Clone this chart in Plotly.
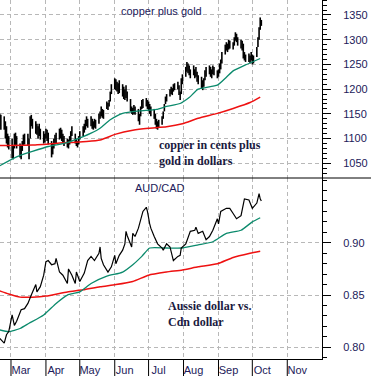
import pandas as pd
import plotly.graph_objects as go

# ---------------- data ----------------
# copper (cents) + gold (dollars): daily high / low, business days 2009-02-19 .. 2009-10-09
cg_start, cg_end = "2009-02-19", "2009-10-09"
cg_high = [
    1150, 1148,
    1145, 1135, 1125, 1110, 1105,
    1100, 1085, 1110, 1112, 1105,
    1090, 1085, 1095, 1108, 1110,
    1110, 1100, 1145, 1148, 1140,
    1135, 1130, 1125, 1130, 1120,
    1115, 1110, 1120, 1118, 1112,
    1095, 1090, 1100, 1108, 1112,
    1120, 1122, 1118, 1110, 1105,
    1100, 1098, 1105, 1115, 1125,
    1110, 1100, 1095, 1105, 1115,
    1125, 1130, 1138, 1145, 1140,
    1145, 1140, 1135, 1140, 1138,
    1150, 1155, 1165, 1160, 1158,
    1175, 1172, 1178, 1195, 1210,
    1222, 1220, 1215, 1212, 1218,
    1210, 1205, 1200, 1208, 1195,
    1180, 1165, 1162, 1168, 1165,
    1160, 1150, 1165, 1178, 1180,
    1182, 1178, 1175, 1170, 1165,
    1160, 1150, 1140, 1135, 1138,
    1145, 1155, 1170, 1185, 1190,
    1200, 1205, 1202, 1210, 1212,
    1215, 1208, 1195, 1222, 1230,
    1245, 1255, 1252, 1248, 1240,
    1248, 1240, 1245, 1235, 1228,
    1225, 1218, 1222, 1238, 1245,
    1248, 1245, 1240, 1248, 1245,
    1238, 1240, 1252, 1260, 1275,
    1290, 1295, 1292, 1300, 1298,
    1295, 1305, 1315, 1312, 1305,
    1300, 1298, 1292, 1275, 1270,
    1272, 1268, 1275, 1270, 1268,
    1285, 1305, 1325, 1345, 1340,
]
cg_low = [
    1125, 1118,
    1118, 1100, 1090, 1082, 1078,
    1060, 1058, 1080, 1085, 1080,
    1062, 1058, 1075, 1085, 1088,
    1085, 1058, 1100, 1125, 1120,
    1110, 1108, 1100, 1105, 1098,
    1090, 1092, 1100, 1095, 1088,
    1062, 1068, 1080, 1088, 1090,
    1098, 1100, 1095, 1090, 1085,
    1082, 1080, 1088, 1095, 1105,
    1090, 1085, 1082, 1088, 1098,
    1105, 1112, 1118, 1125, 1122,
    1125, 1120, 1118, 1122, 1120,
    1130, 1140, 1145, 1142, 1140,
    1160, 1158, 1165, 1175, 1190,
    1200, 1198, 1195, 1190, 1192,
    1185, 1180, 1178, 1182, 1175,
    1155, 1150, 1148, 1150, 1148,
    1135, 1128, 1145, 1160, 1162,
    1165, 1160, 1155, 1150, 1145,
    1140, 1128, 1120, 1118, 1122,
    1128, 1140, 1155, 1170, 1175,
    1185, 1190, 1188, 1195, 1198,
    1200, 1188, 1178, 1190, 1210,
    1225, 1235, 1232, 1228, 1222,
    1228, 1222, 1225, 1215, 1210,
    1202, 1198, 1205, 1218, 1225,
    1230, 1225, 1222, 1230, 1228,
    1222, 1225, 1232, 1240, 1252,
    1270, 1278, 1275, 1280, 1282,
    1280, 1288, 1298, 1295, 1288,
    1282, 1278, 1262, 1258, 1255,
    1255, 1252, 1258, 1250, 1252,
    1265, 1285, 1300, 1320, 1328,
]
cg_ma_short_dates = ["2009-02-19", "2009-03-06", "2009-03-20", "2009-04-03", "2009-04-20",
                     "2009-05-04", "2009-05-11", "2009-05-19", "2009-05-28", "2009-06-08",
                     "2009-06-23", "2009-07-08", "2009-07-17", "2009-07-29", "2009-08-06",
                     "2009-08-14", "2009-08-31", "2009-09-08", "2009-09-14", "2009-09-25",
                     "2009-10-08"]
cg_ma_short = [1045, 1063, 1074, 1084, 1092, 1104, 1111, 1121, 1138, 1151,
               1156, 1159, 1165, 1171, 1183, 1200, 1208, 1224, 1237, 1249, 1262]
cg_ma_long_dates = ["2009-02-19", "2009-03-20", "2009-04-20", "2009-05-07", "2009-05-19",
                    "2009-06-02", "2009-06-17", "2009-07-01", "2009-07-17", "2009-07-31",
                    "2009-08-14", "2009-08-31", "2009-09-14", "2009-09-29", "2009-10-08"]
cg_ma_long = [1086, 1087, 1092, 1094, 1097, 1109, 1117, 1121, 1124, 1130,
              1141, 1151, 1161, 1173, 1184]

# AUD/CAD
aud_dates = (
    ["2009-02-19", "2009-02-23", "2009-02-25", "2009-02-27"]
    + ["2009-03-02", "2009-03-04", "2009-03-06", "2009-03-10", "2009-03-13", "2009-03-16",
       "2009-03-19", "2009-03-23", "2009-03-24", "2009-03-27", "2009-03-30"]
    + ["2009-04-01", "2009-04-03", "2009-04-06", "2009-04-09", "2009-04-10", "2009-04-13",
       "2009-04-16", "2009-04-20", "2009-04-21", "2009-04-24", "2009-04-27", "2009-04-28"]
    + ["2009-05-01", "2009-05-05", "2009-05-08", "2009-05-11", "2009-05-14", "2009-05-18",
       "2009-05-19", "2009-05-20", "2009-05-22", "2009-05-26", "2009-05-29"]
    + ["2009-06-01", "2009-06-02", "2009-06-05", "2009-06-08", "2009-06-10", "2009-06-11",
       "2009-06-12", "2009-06-16", "2009-06-17", "2009-06-19", "2009-06-22", "2009-06-24",
       "2009-06-26", "2009-06-29", "2009-06-30"]
    + ["2009-07-02", "2009-07-03", "2009-07-06", "2009-07-09", "2009-07-13", "2009-07-14",
       "2009-07-17", "2009-07-20", "2009-07-23", "2009-07-27", "2009-07-29", "2009-07-30"]
    + ["2009-08-03", "2009-08-05", "2009-08-07", "2009-08-11", "2009-08-12", "2009-08-14",
       "2009-08-18", "2009-08-21", "2009-08-24", "2009-08-27", "2009-08-31"]
    + ["2009-09-01", "2009-09-03", "2009-09-08", "2009-09-11", "2009-09-14", "2009-09-17",
       "2009-09-21", "2009-09-24", "2009-09-28", "2009-09-30"]
    + ["2009-10-01", "2009-10-05", "2009-10-07", "2009-10-08", "2009-10-09"]
)
aud_vals = (
    [0.8086, 0.804, 0.812, 0.815]
    + [0.831, 0.821, 0.825, 0.836, 0.837, 0.842, 0.850, 0.860, 0.853, 0.858, 0.869]
    + [0.882, 0.883, 0.879, 0.880, 0.885, 0.872, 0.869, 0.861, 0.875, 0.869, 0.861, 0.872]
    + [0.863, 0.871, 0.883, 0.887, 0.883, 0.890, 0.896, 0.885, 0.879, 0.872, 0.877]
    + [0.888, 0.880, 0.888, 0.893, 0.899, 0.911, 0.907, 0.896, 0.909, 0.906, 0.914, 0.923,
       0.930, 0.934, 0.930]
    + [0.918, 0.914, 0.906, 0.899, 0.895, 0.893, 0.899, 0.896, 0.883, 0.887, 0.888, 0.895]
    + [0.899, 0.906, 0.911, 0.912, 0.915, 0.909, 0.911, 0.903, 0.906, 0.912, 0.923]
    + [0.918, 0.930, 0.933, 0.933, 0.928, 0.923, 0.926, 0.942, 0.941, 0.936]
    + [0.933, 0.938, 0.947, 0.942, 0.940]
)
aud_ma_short_dates = ["2009-02-19", "2009-02-27", "2009-03-09", "2009-03-17", "2009-03-30",
                      "2009-04-10", "2009-04-20", "2009-05-01", "2009-05-11", "2009-05-25",
                      "2009-06-08", "2009-06-17", "2009-06-25", "2009-07-02", "2009-07-17",
                      "2009-07-31", "2009-08-14", "2009-08-27", "2009-09-08", "2009-09-21",
                      "2009-10-01", "2009-10-08"]
aud_ma_short = [0.8166, 0.815, 0.818, 0.823, 0.831, 0.842, 0.850, 0.853, 0.861, 0.868,
                0.872, 0.879, 0.887, 0.895, 0.895, 0.895, 0.898, 0.901, 0.909, 0.912,
                0.920, 0.924]
aud_ma_long_dates = ["2009-02-19", "2009-02-27", "2009-03-09", "2009-03-20", "2009-04-01",
                     "2009-04-20", "2009-05-04", "2009-05-19", "2009-06-02", "2009-06-17",
                     "2009-07-01", "2009-07-17", "2009-07-31", "2009-08-14", "2009-08-31",
                     "2009-09-14", "2009-09-29", "2009-10-08"]
aud_ma_long = [0.854, 0.851, 0.848, 0.848, 0.849, 0.853, 0.855, 0.858, 0.860, 0.863,
               0.869, 0.872, 0.874, 0.877, 0.880, 0.886, 0.890, 0.892]

month_ticks = ["2009-03-01", "2009-04-01", "2009-05-01", "2009-06-01", "2009-07-01",
               "2009-08-01", "2009-09-01", "2009-10-01", "2009-11-01"]
month_labels = ["Mar", "Apr", "May", "Jun", "Jul", "Aug", "Sep", "Oct", "Nov"]
cg_ticks = [1050, 1100, 1150, 1200, 1250, 1300, 1350]
aud_ticks = [0.80, 0.85, 0.90]

# ---------------- figure ----------------
W, H = 371, 376
ML, MR, MT, MB = 0, 49, 0, 17
PH = H - MT - MB
split = (PH - 178) / PH

GREEN = "#0b8a6c"
RED = "#ee1111"
NAVY = "#221a5a"
GRID = "#b8b8b8"

bdays = pd.bdate_range(cg_start, cg_end)
bx, by = [], []
for d, h, l in zip(bdays, cg_high, cg_low):
    bx += [d, d, None]
    by += [l, h, None]

fig = go.Figure()
fig.add_trace(go.Scatter(x=bx, y=by, mode="lines", line=dict(color="black", width=1.6),
                         xaxis="x", yaxis="y", hoverinfo="skip"))
fig.add_trace(go.Scatter(x=cg_ma_long_dates, y=cg_ma_long, mode="lines",
                         line=dict(color=RED, width=1.5, shape="spline", smoothing=0.5),
                         xaxis="x", yaxis="y"))
fig.add_trace(go.Scatter(x=cg_ma_short_dates, y=cg_ma_short, mode="lines",
                         line=dict(color=GREEN, width=1.3, shape="spline", smoothing=0.5),
                         xaxis="x", yaxis="y"))

fig.add_trace(go.Scatter(x=aud_ma_long_dates, y=aud_ma_long, mode="lines",
                         line=dict(color=RED, width=1.5, shape="spline", smoothing=0.5),
                         xaxis="x2", yaxis="y2"))
fig.add_trace(go.Scatter(x=aud_ma_short_dates, y=aud_ma_short, mode="lines",
                         line=dict(color=GREEN, width=1.3, shape="spline", smoothing=0.5),
                         xaxis="x2", yaxis="y2"))
fig.add_trace(go.Scatter(x=aud_dates, y=aud_vals, mode="lines",
                         line=dict(color="black", width=1.2),
                         xaxis="x2", yaxis="y2"))

xrange = ["2009-02-19 06:00", "2009-12-01 19:00"]
xcommon = dict(range=xrange, type="date", tickmode="array", tickvals=month_ticks,
               showgrid=True, gridcolor=GRID, griddash="4px,3px", gridwidth=1,
               zeroline=False, fixedrange=True, automargin=False)
ycommon = dict(side="right", showgrid=True, gridcolor=GRID, griddash="4px,3px",
               showline=True, linecolor="black", linewidth=1, zeroline=False,
               ticks="outside", ticklen=8, tickcolor="black", tickwidth=1,
               ticklabelstandoff=10, automargin=False,
               tickfont=dict(family="Liberation Sans, Arial", size=11, color=NAVY))

fig.update_layout(
    width=W, height=H,
    margin=dict(l=ML, r=MR, t=MT, b=MB, pad=0, autoexpand=False),
    paper_bgcolor="white", plot_bgcolor="white",
    showlegend=False,
    xaxis=dict(**xcommon, anchor="y", showticklabels=False, ticks=""),
    xaxis2=dict(**xcommon, anchor="y2", ticktext=month_labels, ticks="",
                showline=True, linecolor="black", linewidth=1,
                ticklabelshift=10, ticklabelstandoff=1,
                tickfont=dict(family="Liberation Sans, Arial", size=11, color=NAVY)),
    yaxis=dict(**ycommon, domain=[split, 1], range=[1020.3, 1380.3],
               tickmode="array", tickvals=cg_ticks,
               minor=dict(tickmode="linear", tick0=1000, dtick=10, ticks="outside",
                          ticklen=4, tickcolor="black", showgrid=False)),
    yaxis2=dict(**ycommon, domain=[0, split], range=[0.7888, 0.962],
                tickmode="array", tickvals=aud_ticks, tickformat=".2f",
                minor=dict(tickmode="linear", tick0=0.8, dtick=0.01, ticks="outside",
                           ticklen=4, tickcolor="black", showgrid=False)),
)

# month tick marks below the bottom axis
for m in month_ticks:
    fig.add_shape(type="line", xref="x2", yref="paper", x0=m, x1=m,
                  y0=0, y1=-MB / PH, line=dict(color="black", width=1))
# separator between panels (extends across full width)
fig.add_shape(type="line", xref="paper", yref="paper", x0=0, x1=W / (W - MR),
              y0=split, y1=split, line=dict(color="black", width=1))

def py(pix):
    return (PH - pix) / PH

def px(pix):
    return pix / (W - MR)

fig.add_annotation(text="copper plus gold", xref="paper", yref="paper",
                   x=px(161.5), y=py(11.5), showarrow=False, xanchor="center", yanchor="middle",
                   font=dict(family="Liberation Sans, Arial", size=11, color=NAVY))
fig.add_annotation(text="AUD/CAD", xref="paper", yref="paper",
                   x=px(160), y=py(187.7), showarrow=False, xanchor="center", yanchor="middle",
                   font=dict(family="Liberation Sans, Arial", size=11, color=NAVY))
fig.add_annotation(text="copper in cents plus<br>gold in dollars", xref="paper", yref="paper",
                   x=px(156.7), y=py(152.7), showarrow=False, xanchor="left", yanchor="middle",
                   align="left",
                   font=dict(family="Liberation Serif, Times New Roman", size=12,
                             color="#1a1a40", weight="bold"))
fig.add_annotation(text="Aussie dollar vs.<br>Cdn dollar", xref="paper", yref="paper",
                   x=px(166), y=py(314.2), showarrow=False, xanchor="left", yanchor="middle",
                   align="left",
                   font=dict(family="Liberation Serif, Times New Roman", size=12,
                             color="#1a1a40", weight="bold"))

fig.write_html("out.html", config={"displayModeBar": False},
               post_script="document.body.style.margin='0';document.body.style.padding='0';")
